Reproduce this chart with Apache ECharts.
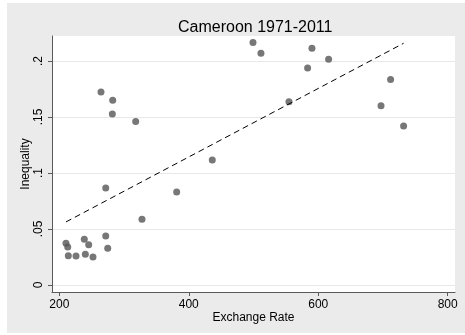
<!DOCTYPE html>
<html lang="en" style="height: 100%">
<head>
  <meta charset="utf-8">
</head>
<body style="height: 100%; margin: 0; background: #fff">
  <div id="container" style="width: 465px; height: 335px"></div>

  <script type="text/javascript" src="https://cdn.jsdelivr.net/npm/echarts@6/dist/echarts.min.js"></script>
  <script type="text/javascript">
    // exchange rate vs inequality, one point per year
    var exchangeRate = [
      210.3, 213, 213.9, 225.8, 238.6, 240.2, 245.4, 252, 271.7, 274.8,
      271.7, 281.9, 282.5, 264.4, 318, 327.7, 381.3, 436.3, 499.2, 511.5,
      554.8, 583.6, 590.3, 616, 697, 711.8, 731.9
    ];
    var inequality = [
      0.0372, 0.034, 0.0262, 0.0259, 0.0408, 0.0274, 0.036, 0.025, 0.0437, 0.0327,
      0.0866, 0.1527, 0.165, 0.1723, 0.1459, 0.0587, 0.083, 0.1116, 0.2164, 0.2069,
      0.1637, 0.1938, 0.2114, 0.2016, 0.1601, 0.1834, 0.142
    ];
    // fitted line endpoints
    var fitX = [210.3, 731.9];
    var fitY = [0.0563, 0.2158];

    var xTicks = [200, 400, 600, 800];
    var yTicks = [0, 0.05, 0.1, 0.15, 0.2];

    var points = exchangeRate.map(function (x, i) { return [x, inequality[i]]; });
    var fitLine = fitX.map(function (x, i) { return [x, fitY[i]]; });

    var font = '"Liberation Sans", Arial, Helvetica, sans-serif';
    var axisColor = '#5a5a5a';

    var myChart = echarts.init(document.getElementById('container'), null, { renderer: 'canvas' });

    var option = {
      animation: false,
      backgroundColor: '#fff',
      textStyle: { fontFamily: font },
      graphic: [{
        type: 'rect',
        z: -10,
        silent: true,
        shape: { x: 7, y: 3, width: 458, height: 330 },
        style: { fill: '#ebebeb' }
      }],
      title: {
        text: 'Cameroon 1971-2011',
        left: 173,
        top: 15,
        textStyle: { fontFamily: font, fontSize: 16, fontWeight: 'normal', color: '#000' }
      },
      grid: {
        left: 52, right: 10, top: 36, bottom: 43,
        show: true, backgroundColor: '#fff', borderWidth: 0
      },
      xAxis: {
        type: 'value',
        min: 188.7,
        max: 811.3,
        name: 'Exchange Rate',
        nameLocation: 'middle',
        nameGap: 20,
        nameMoveOverlap: false,
        nameTextStyle: { fontFamily: font, fontSize: 12, color: '#000' },
        axisLine: { show: true, onZero: false, lineStyle: { color: axisColor, width: 1 } },
        axisTick: { show: true, length: 4, customValues: xTicks, lineStyle: { color: axisColor } },
        axisLabel: { customValues: xTicks, margin: 7, fontSize: 12, color: '#000', fontFamily: font },
        splitLine: { show: false }
      },
      yAxis: {
        type: 'value',
        min: -0.00625,
        max: 0.2223,
        name: 'Inequality',
        nameLocation: 'middle',
        nameGap: 20,
        nameMoveOverlap: false,
        nameTextStyle: { fontFamily: font, fontSize: 12, color: '#000' },
        axisLine: { show: true, onZero: false, lineStyle: { color: axisColor, width: 1 } },
        axisTick: { show: true, length: 4, customValues: yTicks, lineStyle: { color: axisColor } },
        axisLabel: {
          customValues: yTicks,
          rotate: 90,
          margin: 7,
          fontSize: 12,
          color: '#000',
          fontFamily: font,
          formatter: function (v) {
            if (v === 0) return '0';
            return String(+v.toFixed(2)).replace(/^0/, '');
          }
        },
        splitLine: { show: true, lineStyle: { color: '#e8e8e8', width: 1 } }
      },
      series: [
        {
          type: 'scatter',
          data: points,
          symbol: 'circle',
          symbolSize: 7,
          itemStyle: { color: '#555555' }
        },
        {
          type: 'line',
          data: fitLine,
          symbol: 'none',
          silent: true,
          lineStyle: { color: '#000', width: 1, type: [6, 4] }
        }
      ]
    };

    myChart.setOption(option);
    window.addEventListener('resize', myChart.resize);
  </script>
</body>
</html>
